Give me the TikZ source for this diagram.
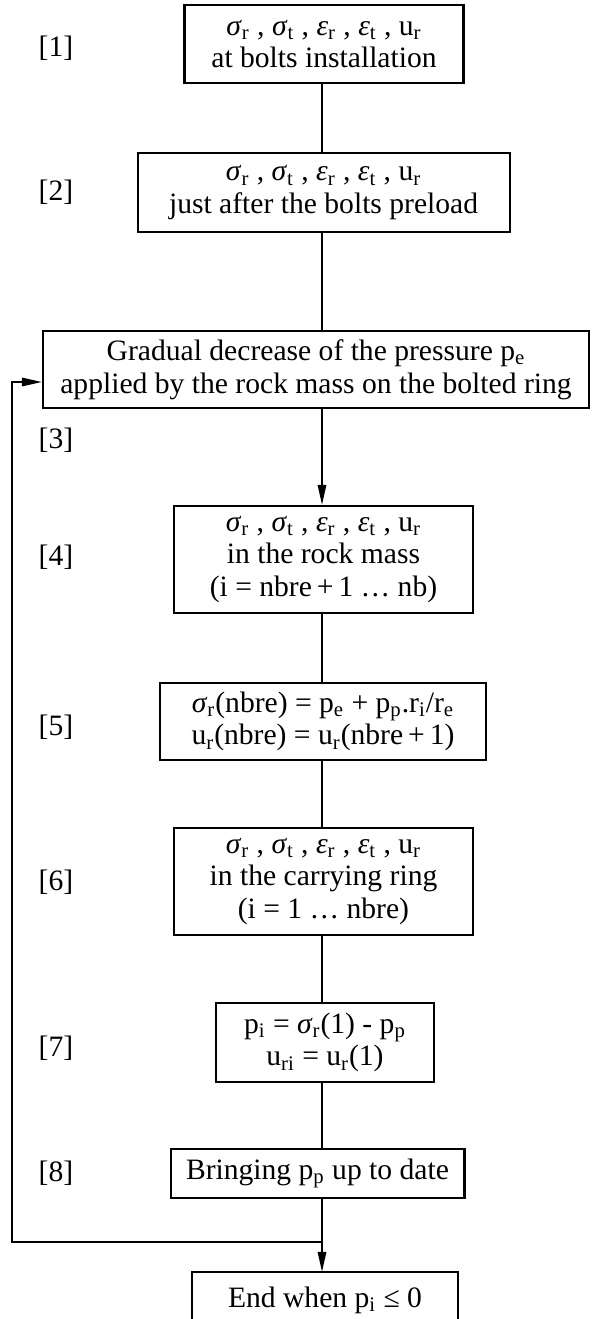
\documentclass[tikz,border=0pt]{standalone}
\usepackage{fontspec}
\setmainfont{Liberation Serif}
\usetikzlibrary{arrows.meta}
\newcommand{\sbs}[1]{\textsubscript{#1}}
\newcommand{\sgm}{\textit{σ}}
\newcommand{\eps}{\textit{ε}}
\newcommand{\pls}{\,+\,}
\newcommand{\vars}{\sgm\sbs{r} , \sgm\sbs{t} , \eps\sbs{r} , \eps\sbs{t} , u\sbs{r}}
\begin{document}
\begin{tikzpicture}[x=0.5pt,y=-0.5pt,
  box/.style={draw, line width=1.1pt, align=center, inner sep=0pt, font=\fontsize{14.8}{16.3}\selectfont},
  lbl/.style={font=\fontsize{14.8}{16.3}\selectfont, inner sep=0pt},
  conn/.style={line width=0.9pt},
  arr/.style={conn, -{Triangle[length=10pt,width=4.2pt]}}]
\useasboundingbox (0,0) rectangle (591,1319);

\coordinate (tr) at (322,0);

\node[box, minimum width=139.5pt, minimum height=39pt] (b1) at (324,44) {\vars\\at bolts installation};
\node[box, minimum width=186pt, minimum height=39.5pt] (b2) at (323.6,192.5) {\vars\\just after the bolts preload};
\node[box, minimum width=273pt, minimum height=38.5pt] (b3) at (316,369.5) {Gradual decrease of the pressure p\sbs{e}\\applied by the rock mass on the bolted ring};
\node[box, minimum width=149.5pt, minimum height=53.5pt] (b4) at (323.5,559.5) {\vars\\in the rock mass\\(i = nbre\pls 1 \dots\ nb)};
\node[box, minimum width=163pt, minimum height=38.5pt] (b5) at (323,721.5) {\sgm\sbs{r}(nbre) = p\sbs{e} + p\sbs{p}.r\sbs{i}/r\sbs{e}\\u\sbs{r}(nbre) = u\sbs{r}(nbre\pls 1)};
\node[box, minimum width=149.5pt, minimum height=53.5pt] (b6) at (323.5,881.5) {\vars\\in the carrying ring\\(i = 1 \dots\ nbre)};
\node[box, minimum width=108.75pt, minimum height=39.5pt] (b7) at (325,1042.5) {p\sbs{i} = \sgm\sbs{r}(1) - p\sbs{p}\\u\sbs{ri} = u\sbs{r}(1)};
\node[box, minimum width=146.9pt, minimum height=24.5pt] (b8) at (317.5,1173.5) {Bringing p\sbs{p} up to date};
\node[box, draw=none, minimum width=132pt, minimum height=27pt] (end) at (325,1300) {End when p\sbs{i} ≤ 0};
\draw[line width=1.1pt] ([yshift=-10pt]end.south west) -- (end.north west) -- (end.north east) -- ([yshift=-10pt]end.south east);

\node[lbl] (l1) at (56,48) {[1]};
\node[lbl] (l2) at (56,192) {[2]};
\node[lbl] (l3) at (56,440) {[3]};
\node[lbl] (l4) at (56,557) {[4]};
\node[lbl] (l5) at (56,727) {[5]};
\node[lbl] (l6) at (56,882) {[6]};
\node[lbl] (l7) at (56,1048) {[7]};
\node[lbl] (l8) at (56,1173) {[8]};

\draw[conn] (b1.south -| tr) -- (b2.north -| tr);
\draw[conn] (b2.south -| tr) -- (b3.north -| tr);
\draw[arr] (b3.south -| tr) -- (b4.north -| tr);
\draw[conn] (b4.south -| tr) -- (b5.north -| tr);
\draw[conn] (b5.south -| tr) -- (b6.north -| tr);
\draw[conn] (b6.south -| tr) -- (b7.north -| tr);
\draw[conn] (b7.south -| tr) -- (b8.north -| tr);

\coordinate (j) at (322,1242);
\coordinate (lb) at (12,1242);
\coordinate (lt) at (12,382);
\draw[conn] (b8.south -| tr) -- (j);
\draw[arr] (j) -- (end.north -| tr);
\draw[arr] (j) -- (lb) -- (lt) -- (lt -| b3.west);
\end{tikzpicture}
\end{document}
